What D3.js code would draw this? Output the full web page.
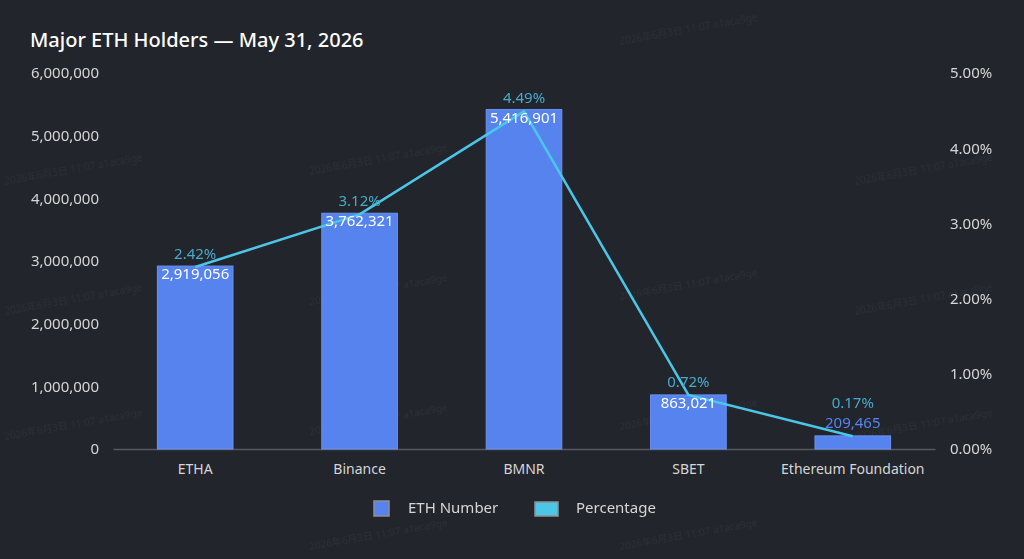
<!DOCTYPE html>
<html>
<head>
<meta charset="utf-8">
<script src="https://cdn.jsdelivr.net/npm/d3@7"></script>
<style>
  html, body { margin: 0; padding: 0; background: #22252b; }
  svg { display: block; font-family: "Noto Sans", "Noto Sans CJK SC", sans-serif; }
</style>
</head>
<body>
<div class="chart"></div>
<script>
// data
var holders = ["ETHA", "Binance", "BMNR", "SBET", "Ethereum Foundation"];
var ethNumber = [2919056, 3762321, 5416901, 863021, 209465];
var percentage = [2.42, 3.12, 4.49, 0.72, 0.17];
var leftTicks = [0, 1000000, 2000000, 3000000, 4000000, 5000000, 6000000];
var rightTicks = [0, 1, 2, 3, 4, 5];

var width = 1024, height = 559;
var margin = {top: 73, right: 89, bottom: 110, left: 113};

var svg = d3.select(".chart")
  .append("svg")
  .attr("width", width)
  .attr("height", height);

svg.append("rect").attr("width", width).attr("height", height).attr("fill", "#22252b");

// faint watermark
var wm = svg.append("g").attr("fill", "#ffffff").attr("opacity", 0.05)
  .attr("font-size", 10);
[[620, 45], [310, 175], [5, 185], [5, 315], [310, 305], [620, 300], [5, 440],
 [310, 435], [620, 430], [855, 185], [855, 315], [855, 440], [310, 550], [620, 550]]
  .forEach(function(p) {
    wm.append("text")
      .attr("transform", "translate(" + p[0] + "," + p[1] + ") rotate(-10)")
      .text("2026年6月3日 11:07 a1aca9ge");
  });

var x = d3.scaleBand()
  .domain(holders)
  .range([margin.left, width - margin.right])
  .paddingInner(0.54)
  .paddingOuter(0.27);

var y = d3.scaleLinear()
  .domain([0, 6000000])
  .range([height - margin.bottom, margin.top]);

var y2 = d3.scaleLinear()
  .domain([0, 5])
  .range([height - margin.bottom, margin.top]);

// title
svg.append("text")
  .attr("x", 30).attr("y", 47)
  .attr("fill", "#ffffff")
  .attr("font-size", 20)
  .attr("font-weight", 500)
  .text("Major ETH Holders — May 31, 2026");

// left axis
var yAxis = svg.append("g")
  .attr("transform", "translate(" + (margin.left - 14) + ",0)")
  .call(d3.axisLeft(y).tickValues(leftTicks).tickSize(0).tickFormat(d3.format(",")));
yAxis.select(".domain").remove();
yAxis.selectAll("text").attr("fill", "#d6d6d6").attr("font-size", 15)
  .attr("font-family", "'Noto Sans', sans-serif").attr("x", 0);

// right axis
var y2Axis = svg.append("g")
  .attr("transform", "translate(" + (width - margin.right + 15) + ",0)")
  .call(d3.axisRight(y2).tickValues(rightTicks).tickSize(0).tickFormat(function(d) { return d.toFixed(2) + "%"; }));
y2Axis.select(".domain").remove();
y2Axis.selectAll("text").attr("fill", "#d6d6d6").attr("font-size", 15)
  .attr("font-family", "'Noto Sans', sans-serif").attr("x", 0);

// x axis
var xAxis = svg.append("g")
  .attr("transform", "translate(0," + (height - margin.bottom) + ")")
  .call(d3.axisBottom(x).tickSize(0).tickPadding(15));
xAxis.select(".domain").attr("stroke", "#55585e").attr("stroke-width", 1.5);
xAxis.selectAll("text").attr("fill", "#d6d6d6").attr("font-size", 14)
  .attr("font-family", "'Noto Sans', sans-serif");

// bars
var rows = holders.map(function(h, i) {
  return {name: h, value: ethNumber[i], pct: percentage[i]};
});

svg.append("g")
  .selectAll("rect")
  .data(rows)
  .enter().append("rect")
  .attr("x", function(d) { return x(d.name); })
  .attr("y", function(d) { return y(d.value); })
  .attr("width", x.bandwidth())
  .attr("height", function(d) { return y(0) - y(d.value); })
  .attr("fill", "#5683ee")
  .attr("stroke", "#6d93f0")
  .attr("stroke-width", 1);

// line
var line = d3.line()
  .x(function(d) { return x(d.name) + x.bandwidth() / 2; })
  .y(function(d) { return y2(d.pct); });

svg.append("path")
  .datum(rows)
  .attr("d", line)
  .attr("fill", "none")
  .attr("stroke", "#4cc6e6")
  .attr("stroke-width", 2.5);

// value labels (inside top of bar, above it if the bar is short)
function small(d) { return y(0) - y(d.value) < 25; }

svg.append("g")
  .selectAll("text")
  .data(rows)
  .enter().append("text")
  .attr("x", function(d) { return x(d.name) + x.bandwidth() / 2; })
  .attr("y", function(d) { return small(d) ? y(d.value) - 8 : y(d.value) + 13; })
  .attr("text-anchor", "middle")
  .attr("fill", function(d) { return small(d) ? "#5683ee" : "#ffffff"; })
  .attr("font-size", 15)
  .text(function(d) { return d3.format(",")(d.value); });

svg.append("g")
  .selectAll("text")
  .data(rows)
  .enter().append("text")
  .attr("x", function(d) { return x(d.name) + x.bandwidth() / 2; })
  .attr("y", function(d) { return small(d) ? y(d.value) - 28 : y2(d.pct) - 8; })
  .attr("text-anchor", "middle")
  .attr("fill", "#47aacb")
  .attr("font-size", 15)
  .text(function(d) { return d.pct.toFixed(2) + "%"; });

// legend
var legend = svg.append("g").attr("transform", "translate(0,508)");
legend.append("rect").attr("x", 374).attr("y", -7).attr("width", 15).attr("height", 15)
  .attr("fill", "#5683ee").attr("stroke", "#8e9094").attr("stroke-width", 1.5);
legend.append("text").attr("x", 408).attr("y", 5).attr("fill", "#d6d6d6").attr("font-size", 15)
  .text("ETH Number");
legend.append("rect").attr("x", 535).attr("y", -6).attr("width", 23).attr("height", 14)
  .attr("fill", "#4cc6e6").attr("stroke", "#8e9094").attr("stroke-width", 1.5);
legend.append("text").attr("x", 576).attr("y", 5).attr("fill", "#d6d6d6").attr("font-size", 15)
  .text("Percentage");
</script>
</body>
</html>
